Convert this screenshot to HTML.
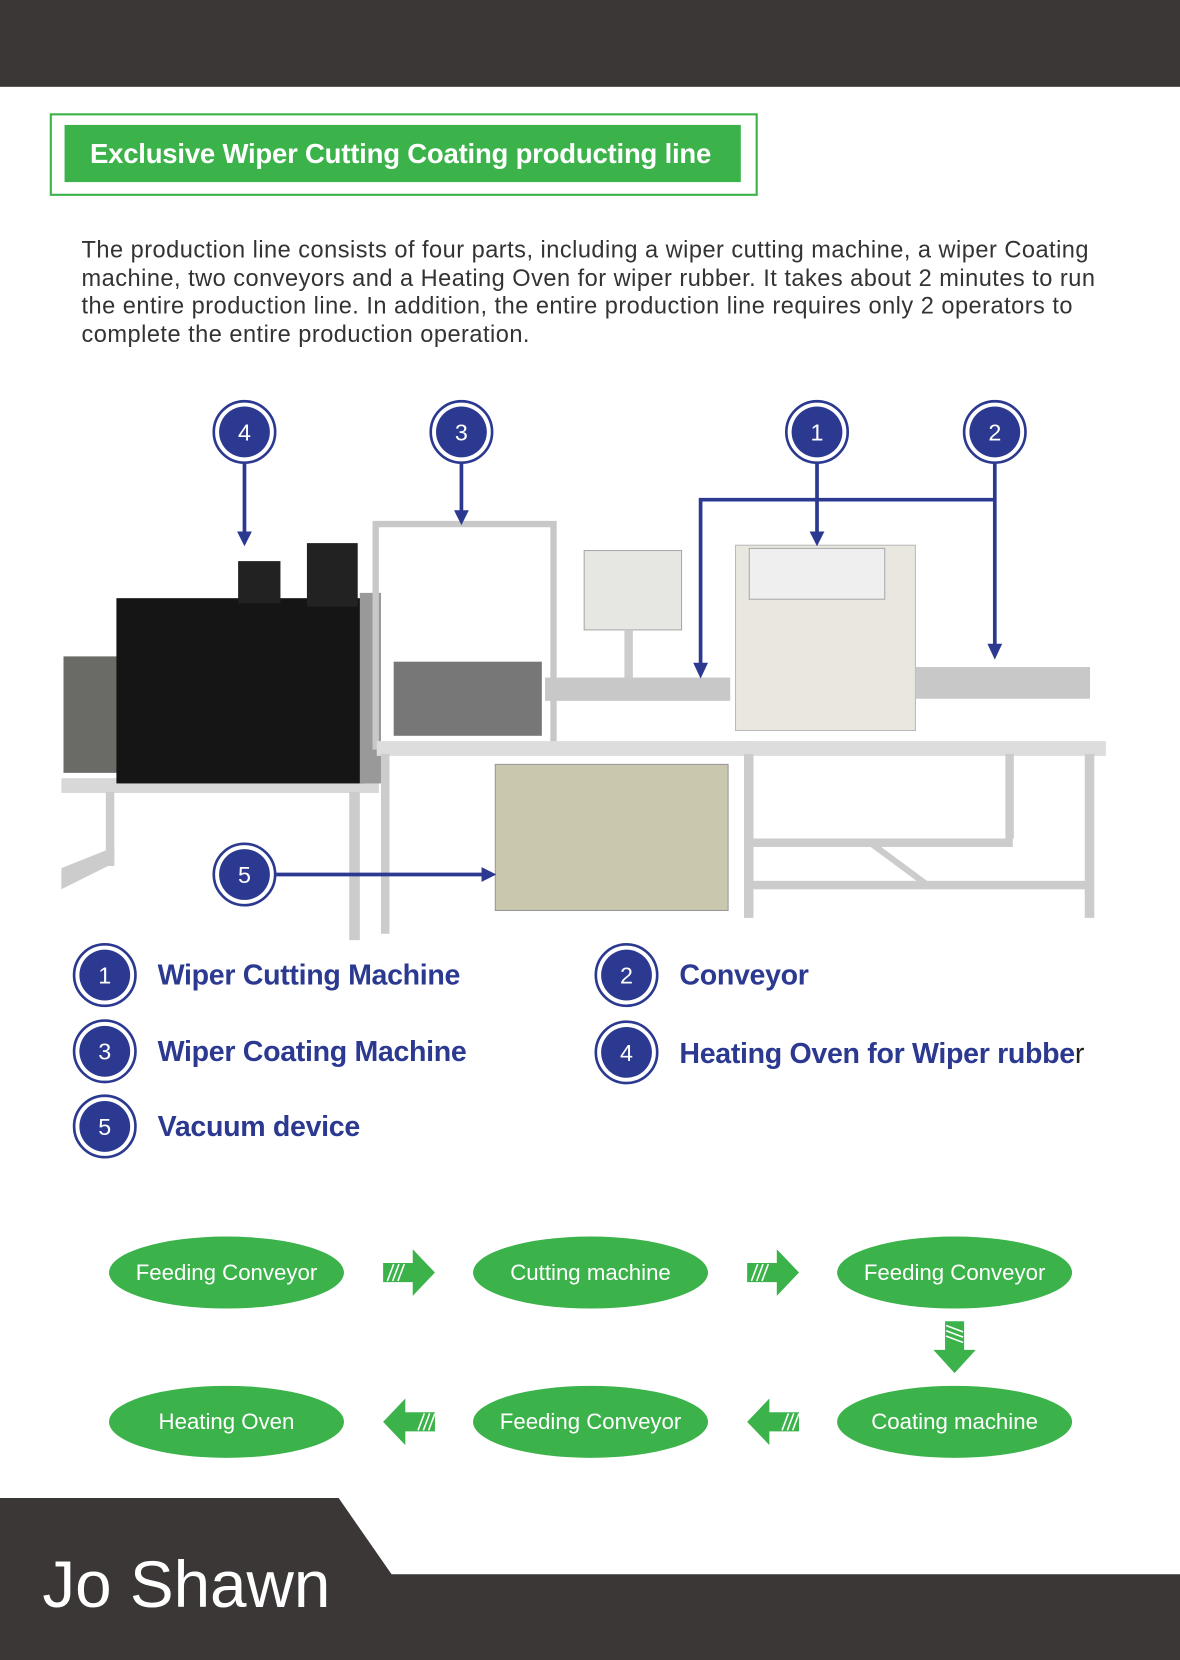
<!DOCTYPE html>
<html><head><meta charset="utf-8"><style>
html,body{margin:0;padding:0;background:#fff;}
#w{width:1115px;height:1568px;position:relative;transform:scale(1.0583,1.0587);transform-origin:0 0;overflow:hidden;font-family:"Liberation Sans",sans-serif;}
.a{position:absolute;}
</style></head><body><div id="w">
<div class="a" style="left:0;top:0;width:1115px;height:82px;background:#3a3736"></div>
<div class="a" style="left:47px;top:107px;width:665px;height:74px;border:2px solid #3bb34a;"></div>
<div class="a" style="left:61px;top:118px;width:639px;height:54px;background:#3bb34a;color:#fff;font-weight:bold;font-size:26px;line-height:54px;text-indent:24px;letter-spacing:-0.2px;white-space:nowrap">Exclusive Wiper Cutting Coating producting line</div>
<div class="a" style="left:77px;top:223px;font-size:22.3px;line-height:26.5px;color:#333;letter-spacing:0.45px;white-space:nowrap">The production line consists of four parts, including a wiper cutting machine, a wiper Coating<br>machine, two conveyors and a Heating Oven for wiper rubber. It takes about 2 minutes to run<br>the entire production line. In addition, the entire production line requires only 2 operators to<br>complete the entire production operation.</div>

<svg class="a" style="left:0;top:0" width="1115" height="1568">
<g>
<rect x="58" y="735" width="300" height="14" fill="#d8d8d8"/>
<rect x="100" y="748" width="8" height="70" fill="#ccc"/>
<rect x="330" y="748" width="10" height="140" fill="#ccc"/>
<polygon points="58,820 108,800 108,815 58,840" fill="#ccc"/>
<rect x="60" y="620" width="60" height="110" fill="#6a6a66"/>
<rect x="110" y="565" width="235" height="175" fill="#151515"/>
<rect x="225" y="530" width="40" height="40" fill="#222"/>
<rect x="290" y="513" width="48" height="60" fill="#222"/>
<rect x="340" y="560" width="20" height="180" fill="#999"/>
<rect x="355" y="495" width="168" height="210" fill="none" stroke="#c8c8c8" stroke-width="6"/>
<rect x="372" y="625" width="140" height="70" fill="#777"/>
<rect x="356" y="700" width="350" height="14" fill="#ddd"/>
<rect x="360" y="712" width="8" height="170" fill="#ccc"/>
<rect x="468" y="722" width="220" height="138" fill="#c9c7ae" stroke="#999"/>
<rect x="552" y="520" width="92" height="75" fill="#e6e6e2" stroke="#aaa"/>
<rect x="590" y="595" width="8" height="50" fill="#ccc"/>
<rect x="515" y="640" width="175" height="22" fill="#c8c8c8"/>
<rect x="695" y="515" width="170" height="175" fill="#e9e7e0" stroke="#bbb"/>
<rect x="708" y="518" width="128" height="48" fill="#efefef" stroke="#aaa"/>
<rect x="865" y="630" width="165" height="30" fill="#c8c8c8"/>
<rect x="700" y="700" width="345" height="14" fill="#ddd"/>
<rect x="703" y="712" width="9" height="155" fill="#ccc"/>
<rect x="1025" y="712" width="9" height="155" fill="#ccc"/>
<rect x="950" y="712" width="8" height="80" fill="#ccc"/>
<rect x="712" y="832" width="315" height="8" fill="#ccc"/>
<rect x="712" y="792" width="245" height="8" fill="#ccc"/>
<polygon points="820,798 830,798 880,835 870,835" fill="#ccc"/>
</g>
<g stroke="#2b3990" stroke-width="3.5" fill="none">
<line x1="231" y1="438" x2="231" y2="505"/>
<line x1="436" y1="438" x2="436" y2="485"/>
<line x1="772" y1="438" x2="772" y2="505"/>
<polyline points="940,438 940,612"/>
<polyline points="940,472 662,472 662,630"/>
<line x1="261" y1="826" x2="458" y2="826"/>
</g>
<g fill="#2b3990">
<polygon points="224,502 238,502 231,516"/>
<polygon points="429,482 443,482 436,496"/>
<polygon points="765,502 779,502 772,516"/>
<polygon points="933,608 947,608 940,623"/>
<polygon points="655,626 669,626 662,641"/>
<polygon points="455,819 455,833 469,826"/>
</g>
<g font-family="Liberation Sans,sans-serif" font-size="22" fill="#fff" text-anchor="middle">
<g><circle cx="231" cy="408" r="29" fill="#fff" stroke="#2b3990" stroke-width="2.5"/><circle cx="231" cy="408" r="24" fill="#2b3990"/><text x="231" y="416">4</text></g>
<g><circle cx="436" cy="408" r="29" fill="#fff" stroke="#2b3990" stroke-width="2.5"/><circle cx="436" cy="408" r="24" fill="#2b3990"/><text x="436" y="416">3</text></g>
<g><circle cx="772" cy="408" r="29" fill="#fff" stroke="#2b3990" stroke-width="2.5"/><circle cx="772" cy="408" r="24" fill="#2b3990"/><text x="772" y="416">1</text></g>
<g><circle cx="940" cy="408" r="29" fill="#fff" stroke="#2b3990" stroke-width="2.5"/><circle cx="940" cy="408" r="24" fill="#2b3990"/><text x="940" y="416">2</text></g>
<g><circle cx="231" cy="826" r="29" fill="#fff" stroke="#2b3990" stroke-width="2.5"/><circle cx="231" cy="826" r="24" fill="#2b3990"/><text x="231" y="834">5</text></g>
<g><circle cx="99" cy="921" r="29" fill="#fff" stroke="#2b3990" stroke-width="2.5"/><circle cx="99" cy="921" r="24" fill="#2b3990"/><text x="99" y="929">1</text></g>
<g><circle cx="99" cy="993" r="29" fill="#fff" stroke="#2b3990" stroke-width="2.5"/><circle cx="99" cy="993" r="24" fill="#2b3990"/><text x="99" y="1001">3</text></g>
<g><circle cx="99" cy="1064" r="29" fill="#fff" stroke="#2b3990" stroke-width="2.5"/><circle cx="99" cy="1064" r="24" fill="#2b3990"/><text x="99" y="1072">5</text></g>
<g><circle cx="592" cy="921" r="29" fill="#fff" stroke="#2b3990" stroke-width="2.5"/><circle cx="592" cy="921" r="24" fill="#2b3990"/><text x="592" y="929">2</text></g>
<g><circle cx="592" cy="994" r="29" fill="#fff" stroke="#2b3990" stroke-width="2.5"/><circle cx="592" cy="994" r="24" fill="#2b3990"/><text x="592" y="1002">4</text></g>
</g>
<g font-family="Liberation Sans,sans-serif" font-size="27" font-weight="bold" fill="#2b3990" letter-spacing="-0.3">
<text x="149" y="930">Wiper Cutting Machine</text>
<text x="149" y="1002">Wiper Coating Machine</text>
<text x="149" y="1073">Vacuum device</text>
<text x="642" y="930">Conveyor</text>
<text x="642" y="1004">Heating Oven for Wiper rubbe<tspan fill="#222" font-weight="normal">r</tspan></text>
</g>
<g fill="#3bb34a">
<ellipse cx="214" cy="1202" rx="111" ry="34"/><ellipse cx="558" cy="1202" rx="111" ry="34"/><ellipse cx="902" cy="1202" rx="111" ry="34"/>
<ellipse cx="214" cy="1343" rx="111" ry="34"/><ellipse cx="558" cy="1343" rx="111" ry="34"/><ellipse cx="902" cy="1343" rx="111" ry="34"/>
<polygon points="362,1193 390,1193 390,1180 411,1202 390,1224 390,1211 362,1211"/>
<polygon points="706,1193 734,1193 734,1180 755,1202 734,1224 734,1211 706,1211"/>
<polygon points="411,1334 383,1334 383,1321 362,1343 383,1365 383,1352 411,1352"/>
<polygon points="755,1334 727,1334 727,1321 706,1343 727,1365 727,1352 755,1352"/>
<polygon points="893,1248 911,1248 911,1275 922,1275 902,1297 882,1275 893,1275"/>
</g>
<g stroke="#fff" stroke-width="1.5">
<line x1="366" y1="1210" x2="372" y2="1194"/><line x1="371" y1="1210" x2="377" y2="1194"/><line x1="376" y1="1210" x2="382" y2="1194"/>
<line x1="710" y1="1210" x2="716" y2="1194"/><line x1="715" y1="1210" x2="721" y2="1194"/><line x1="720" y1="1210" x2="726" y2="1194"/>
<line x1="395" y1="1351" x2="401" y2="1335"/><line x1="400" y1="1351" x2="406" y2="1335"/><line x1="405" y1="1351" x2="411" y2="1335"/>
<line x1="739" y1="1351" x2="745" y2="1335"/><line x1="744" y1="1351" x2="750" y2="1335"/><line x1="749" y1="1351" x2="755" y2="1335"/>
<line x1="894" y1="1252" x2="910" y2="1258"/><line x1="894" y1="1257" x2="910" y2="1263"/><line x1="894" y1="1262" x2="910" y2="1268"/>
</g>
<g font-family="Liberation Sans,sans-serif" font-size="21" fill="#fff" text-anchor="middle">
<text x="214" y="1209">Feeding Conveyor</text><text x="558" y="1209">Cutting machine</text><text x="902" y="1209">Feeding Conveyor</text>
<text x="214" y="1350">Heating Oven</text><text x="558" y="1350">Feeding Conveyor</text><text x="902" y="1350">Coating machine</text>
</g>
<polygon points="0,1415 320,1415 370,1487 1115,1487 1115,1568 0,1568" fill="#3a3736"/>
<text x="40" y="1518" font-family="Liberation Sans,sans-serif" font-size="62" fill="#fff">Jo Shawn</text>
</svg>
</div></body></html>
